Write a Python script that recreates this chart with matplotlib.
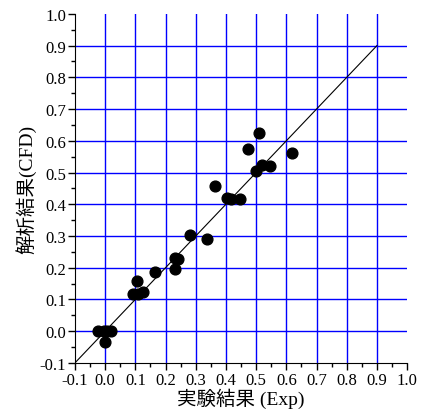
import matplotlib
matplotlib.use("Agg")
import matplotlib.pyplot as plt
import numpy as np

plt.rcParams['font.family'] = ['Liberation Serif', 'Noto Sans CJK JP']

# 実験値 / 解析値
exp_x = [-0.025, -0.005, 0.005, 0.02, 0.0,
         0.093, 0.109, 0.126, 0.107, 0.165,
         0.231, 0.233, 0.241, 0.282, 0.336,
         0.363, 0.403, 0.418, 0.447,
         0.472, 0.508, 0.499, 0.518, 0.547, 0.619]
cfd_y = [0.0, 0.0, 0.0, 0.0, -0.033,
         0.118, 0.118, 0.123, 0.159, 0.186,
         0.195, 0.232, 0.226, 0.302, 0.291,
         0.458, 0.421, 0.416, 0.416,
         0.573, 0.625, 0.505, 0.523, 0.521, 0.562]
diag = [-0.1, 0.9]
ticks = np.round(np.arange(-0.1, 1.01, 0.1), 1)
tick_labels = ['%.1f' % t for t in ticks]

fig = plt.figure(figsize=(4.21, 4.14), dpi=100)
ax = fig.add_axes([0.178, 0.121, 0.789, 0.843])

ax.set_xlim(-0.1, 1.0)
ax.set_ylim(-0.1, 1.0)
ax.set_xticks(ticks)
ax.set_yticks(ticks)
ax.set_xticklabels(tick_labels, fontsize=12)
ax.set_yticklabels(tick_labels, fontsize=12)
ax.set_xticks(ticks[:-1] + 0.05, minor=True)
ax.set_yticks(ticks[:-1] + 0.05, minor=True)
ax.tick_params(which='major', direction='out', length=5, width=1, pad=1.5)
ax.tick_params(which='minor', direction='out', length=3, width=1)

# グリッド(両端は除く)
for t in ticks[1:-1]:
    ax.axvline(t, color='#0000ff', lw=1.0, zorder=0)
    ax.axhline(t, color='#0000ff', lw=1.0, zorder=0)

ax.spines['top'].set_visible(False)
ax.spines['right'].set_visible(False)

ax.plot(diag, diag, color='black', lw=0.8, zorder=2)
ax.scatter(exp_x, cfd_y, s=60, color='black', zorder=3, clip_on=False)

ax.set_xlabel('実験結果 (Exp)', fontsize=14, labelpad=0)
ax.set_ylabel('解析結果(CFD)', fontsize=14, labelpad=2)

fig.savefig('out.png', dpi=100)
